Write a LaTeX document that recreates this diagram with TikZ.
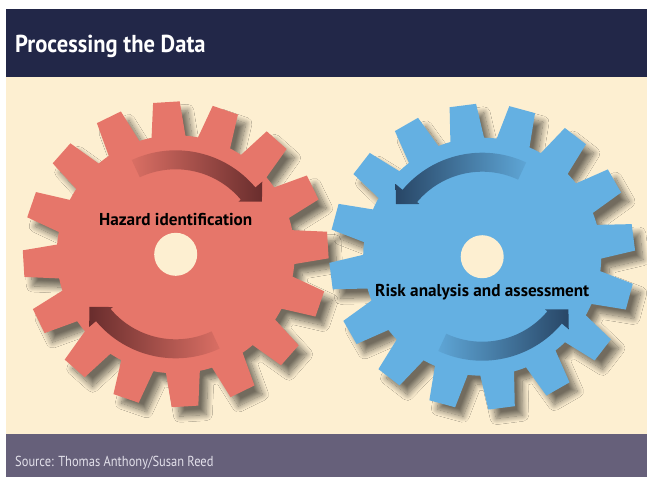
\documentclass[tikz,border=0pt]{standalone}
\usepackage{fontspec}
\setmainfont{PT Sans}
\newfontfamily\titlefont{PT Sans}[FakeStretch=0.92]
\newfontfamily\srcfont{PT Sans}[FakeStretch=0.86]
\usetikzlibrary{shadows.blur}

\definecolor{headbg}{RGB}{34,39,72}
\definecolor{creambg}{RGB}{253,239,209}
\definecolor{footbg}{RGB}{102,96,122}
\definecolor{gearred}{RGB}{230,118,106}
\definecolor{arrowred}{RGB}{105,45,45}
\definecolor{gearblue}{RGB}{100,176,226}
\definecolor{arrowblue}{RGB}{40,70,102}
\definecolor{srcgrey}{RGB}{226,224,234}

\tikzset{
  titletext/.style={anchor=base west,inner sep=0pt,text=white,font=\titlefont\fontsize{24.5}{28}\selectfont\bfseries},
  geartext/.style={anchor=base,inner sep=0pt,text=black,font=\fontsize{17.2}{20}\selectfont\bfseries},
  srctext/.style={anchor=base west,inner sep=0pt,text=srcgrey,font=\srcfont\fontsize{14.5}{17}\selectfont},
  gearshadow/.style={blur shadow={shadow xshift=8pt,shadow yshift=-9pt,shadow blur radius=6pt,shadow blur steps=15,shadow opacity=55}},
}

\begin{document}
\begin{tikzpicture}[x=1pt,y=1pt,yscale=-1,xscale=1]
\useasboundingbox (0,0) rectangle (647,477);

% Panels
    \fill[white] (0,0) rectangle (647,477);
    \fill[creambg] (6,77) rectangle (647,434);
    \fill[headbg] (6,9) rectangle (647,77);
    \fill[footbg] (6,434) rectangle (647,477);

% Red gear
\begin{scope}[shift={(175.7,254.3)},yscale=-1]
    \fill[gearred,gearshadow] (93.5-8.2:119) \foreach \k in {0,...,15}{
        -- (93.5+22.5*\k-5:153) -- (93.5+22.5*\k+5:153) -- (93.5+22.5*\k+8.2:119)
        arc[start angle=93.5+22.5*\k+8.2,end angle=93.5+22.5*\k+14.3,radius=119]} -- cycle;
    \fill[creambg] (0,0) circle[radius=21.5];
%Top arrow
    \shade[left color=gearred!90!arrowred,right color=arrowred] (115:104) arc[start angle=115,end angle=40,radius=104] -- (40:113) -- (31.4:101) -- (40:82) -- (40:85) arc[start angle=40,end angle=115,radius=85] -- cycle;
%Bottom arrow
    \shade[left color=arrowred,right color=gearred!90!arrowred] (295:104) arc[start angle=295,end angle=220,radius=104] -- (220:113) -- (211.4:101) -- (220:82) -- (220:85) arc[start angle=220,end angle=295,radius=85] -- cycle;
\end{scope}

% Blue gear
\begin{scope}[shift={(482.2,256.7)},yscale=-1]
    \fill[gearblue,gearshadow] (97.3-8.2:119) \foreach \k in {0,...,15}{
        -- (97.3+22.5*\k-5:153) -- (97.3+22.5*\k+5:153) -- (97.3+22.5*\k+8.2:119)
        arc[start angle=97.3+22.5*\k+8.2,end angle=97.3+22.5*\k+14.3,radius=119]} -- cycle;
    \fill[creambg] (0,0) circle[radius=21.5];
%Top arrow
    \shade[left color=arrowblue,right color=gearblue!90!arrowblue] (65:104) arc[start angle=65,end angle=140,radius=104] -- (140:113) -- (148.6:101) -- (140:82) -- (140:85) arc[start angle=140,end angle=65,radius=85] -- cycle;
%Bottom arrow
    \shade[left color=gearblue!90!arrowblue,right color=arrowblue] (245:104) arc[start angle=245,end angle=320,radius=104] -- (320:113) -- (328.6:101) -- (320:82) -- (320:85) arc[start angle=320,end angle=245,radius=85] -- cycle;
\end{scope}

% Text Node
    \node[titletext] (title) at (15,52.7) {Processing the Data};
% Text Node
    \node[geartext] (hazard) at (175.7,225.7) {Hazard identification};
% Text Node
    \node[geartext] (risk) at (482.2,296.7) {Risk analysis and assessment};
% Text Node
    \node[srctext] (source) at (15,466.7) {Source: Thomas Anthony/Susan Reed};

\end{tikzpicture}
\end{document}
